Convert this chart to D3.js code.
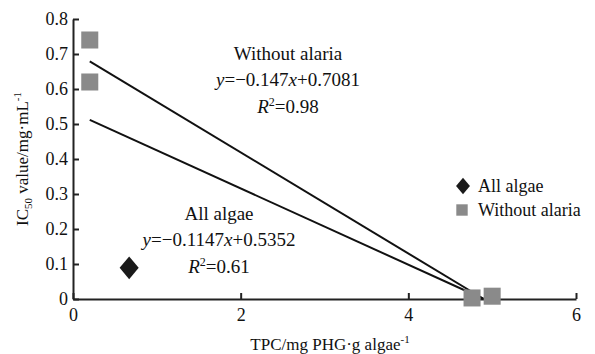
<!DOCTYPE html>
<html>
<head>
<meta charset="utf-8">
<script src="https://cdn.jsdelivr.net/npm/d3@7"></script>
<style>
  body { margin: 0; background: #fff; }
  svg text { font-family: "Liberation Serif", "Times New Roman", serif; fill: #111; }
  .axis text { font-size: 18px; }
</style>
</head>
<body>
<div id="chart"></div>
<script>
// points
var allAlgae = [[0.67, 0.089]];
var withoutAlaria = [[0.2, 0.74], [0.2, 0.62], [4.76, 0.003], [5.0, 0.008]];
// trend line end points
var lineAll = [[0.2, 0.512], [4.9, 0.0]];
var lineWithout = [[0.2, 0.679], [4.9, 0.0]];
var xTicks = [0, 2, 4, 6];
var yTicks = [0, 0.1, 0.2, 0.3, 0.4, 0.5, 0.6, 0.7, 0.8];

var width = 595, height = 354;
var svg = d3.select("#chart").append("svg")
  .attr("width", width)
  .attr("height", height);

var x = d3.scaleLinear().domain([0, 6]).range([73, 576]);
var y = d3.scaleLinear().domain([0, 0.8]).range([299, 19]);

var yAxis = d3.axisLeft(y)
  .tickValues(yTicks)
  .tickSizeInner(-6)
  .tickSizeOuter(0)
  .tickPadding(5)
  .tickFormat(function (d) { return d === 0 ? "0" : d3.format(".1f")(d); });
var xAxis = d3.axisBottom(x)
  .tickValues(xTicks)
  .tickSizeInner(-6)
  .tickSizeOuter(0)
  .tickPadding(9)
  .tickFormat(d3.format("d"));

var gy = svg.append("g").attr("class", "axis").attr("transform", "translate(73,0)").call(yAxis);
var gx = svg.append("g").attr("class", "axis").attr("transform", "translate(0,299)").call(xAxis);
[gy, gx].forEach(function (g) {
  g.attr("font-family", "Liberation Serif").attr("font-size", 18);
  g.select(".domain").attr("stroke", "#222").attr("stroke-width", 2);
  g.selectAll(".tick line").attr("stroke", "#222").attr("stroke-width", 2);
  g.selectAll(".tick text").attr("fill", "#111");
});

// trend lines
var line = d3.line()
  .x(function (d) { return x(d[0]); })
  .y(function (d) { return y(d[1]); });
svg.selectAll("path.trend")
  .data([lineWithout, lineAll])
  .enter().append("path")
  .attr("class", "trend")
  .attr("d", line)
  .attr("fill", "none")
  .attr("stroke", "#111")
  .attr("stroke-width", 2);

// markers
var square = d3.symbol().type(d3.symbolSquare).size(290);
var diamond = d3.symbol().type(d3.symbolDiamond).size(150);

svg.selectAll("path.sq")
  .data(withoutAlaria)
  .enter().append("path")
  .attr("class", "sq")
  .attr("d", square)
  .attr("transform", function (d) { return "translate(" + x(d[0]) + "," + y(d[1]) + ")"; })
  .attr("fill", "#8a8a8a");

svg.selectAll("path.dm")
  .data(allAlgae)
  .enter().append("path")
  .attr("class", "dm")
  .attr("d", diamond)
  .attr("transform", function (d) { return "translate(" + x(d[0]) + "," + y(d[1]) + ") scale(1.45,1)"; })
  .attr("fill", "#1a1a1a");

// annotations
function eqn(g, cx, by, name, slope, icpt, r2) {
  g.append("text").attr("x", cx).attr("y", by).attr("text-anchor", "middle")
    .attr("font-size", 19).text(name);
  var t = g.append("text").attr("x", cx).attr("y", by + 26).attr("text-anchor", "middle")
    .attr("font-size", 19);
  t.append("tspan").attr("font-style", "italic").text("y");
  t.append("tspan").text("=\u2212" + slope);
  t.append("tspan").attr("font-style", "italic").text("x");
  t.append("tspan").text("+" + icpt);
  var r = g.append("text").attr("x", cx).attr("y", by + 53).attr("text-anchor", "middle")
    .attr("font-size", 19);
  r.append("tspan").attr("font-style", "italic").text("R");
  r.append("tspan").attr("font-size", 12).attr("dy", -7).text("2");
  r.append("tspan").attr("dy", 7).text("=" + r2);
}
var ann = svg.append("g");
eqn(ann, 288, 60, "Without alaria", "0.147", "0.7081", "0.98");
eqn(ann, 219, 220, "All algae", "0.1147", "0.5352", "0.61");

// legend
var lg = svg.append("g");
lg.append("path").attr("d", d3.symbol().type(d3.symbolDiamond).size(80))
  .attr("transform", "translate(463,186) scale(1.45,1)").attr("fill", "#1a1a1a");
lg.append("text").attr("x", 478).attr("y", 192).attr("font-size", 18).text("All algae");
lg.append("path").attr("d", d3.symbol().type(d3.symbolSquare).size(130))
  .attr("transform", "translate(462,210)").attr("fill", "#8a8a8a");
lg.append("text").attr("x", 478).attr("y", 216).attr("font-size", 18).text("Without alaria");

// axis titles
var xt = svg.append("text").attr("x", 330).attr("y", 350).attr("text-anchor", "middle")
  .attr("font-size", 17);
xt.append("tspan").text("TPC/mg PHG\u00b7g algae");
xt.append("tspan").attr("font-size", 11).attr("dy", -7).text("-1");

var yt = svg.append("text").attr("transform", "translate(28,159) rotate(-90)")
  .attr("text-anchor", "middle").attr("font-size", 17);
yt.append("tspan").text("IC");
yt.append("tspan").attr("font-size", 11).attr("dy", 4).text("50");
yt.append("tspan").attr("dy", -4).text(" value/mg\u00b7mL");
yt.append("tspan").attr("font-size", 11).attr("dy", -7).text("-1");
</script>
</body>
</html>
